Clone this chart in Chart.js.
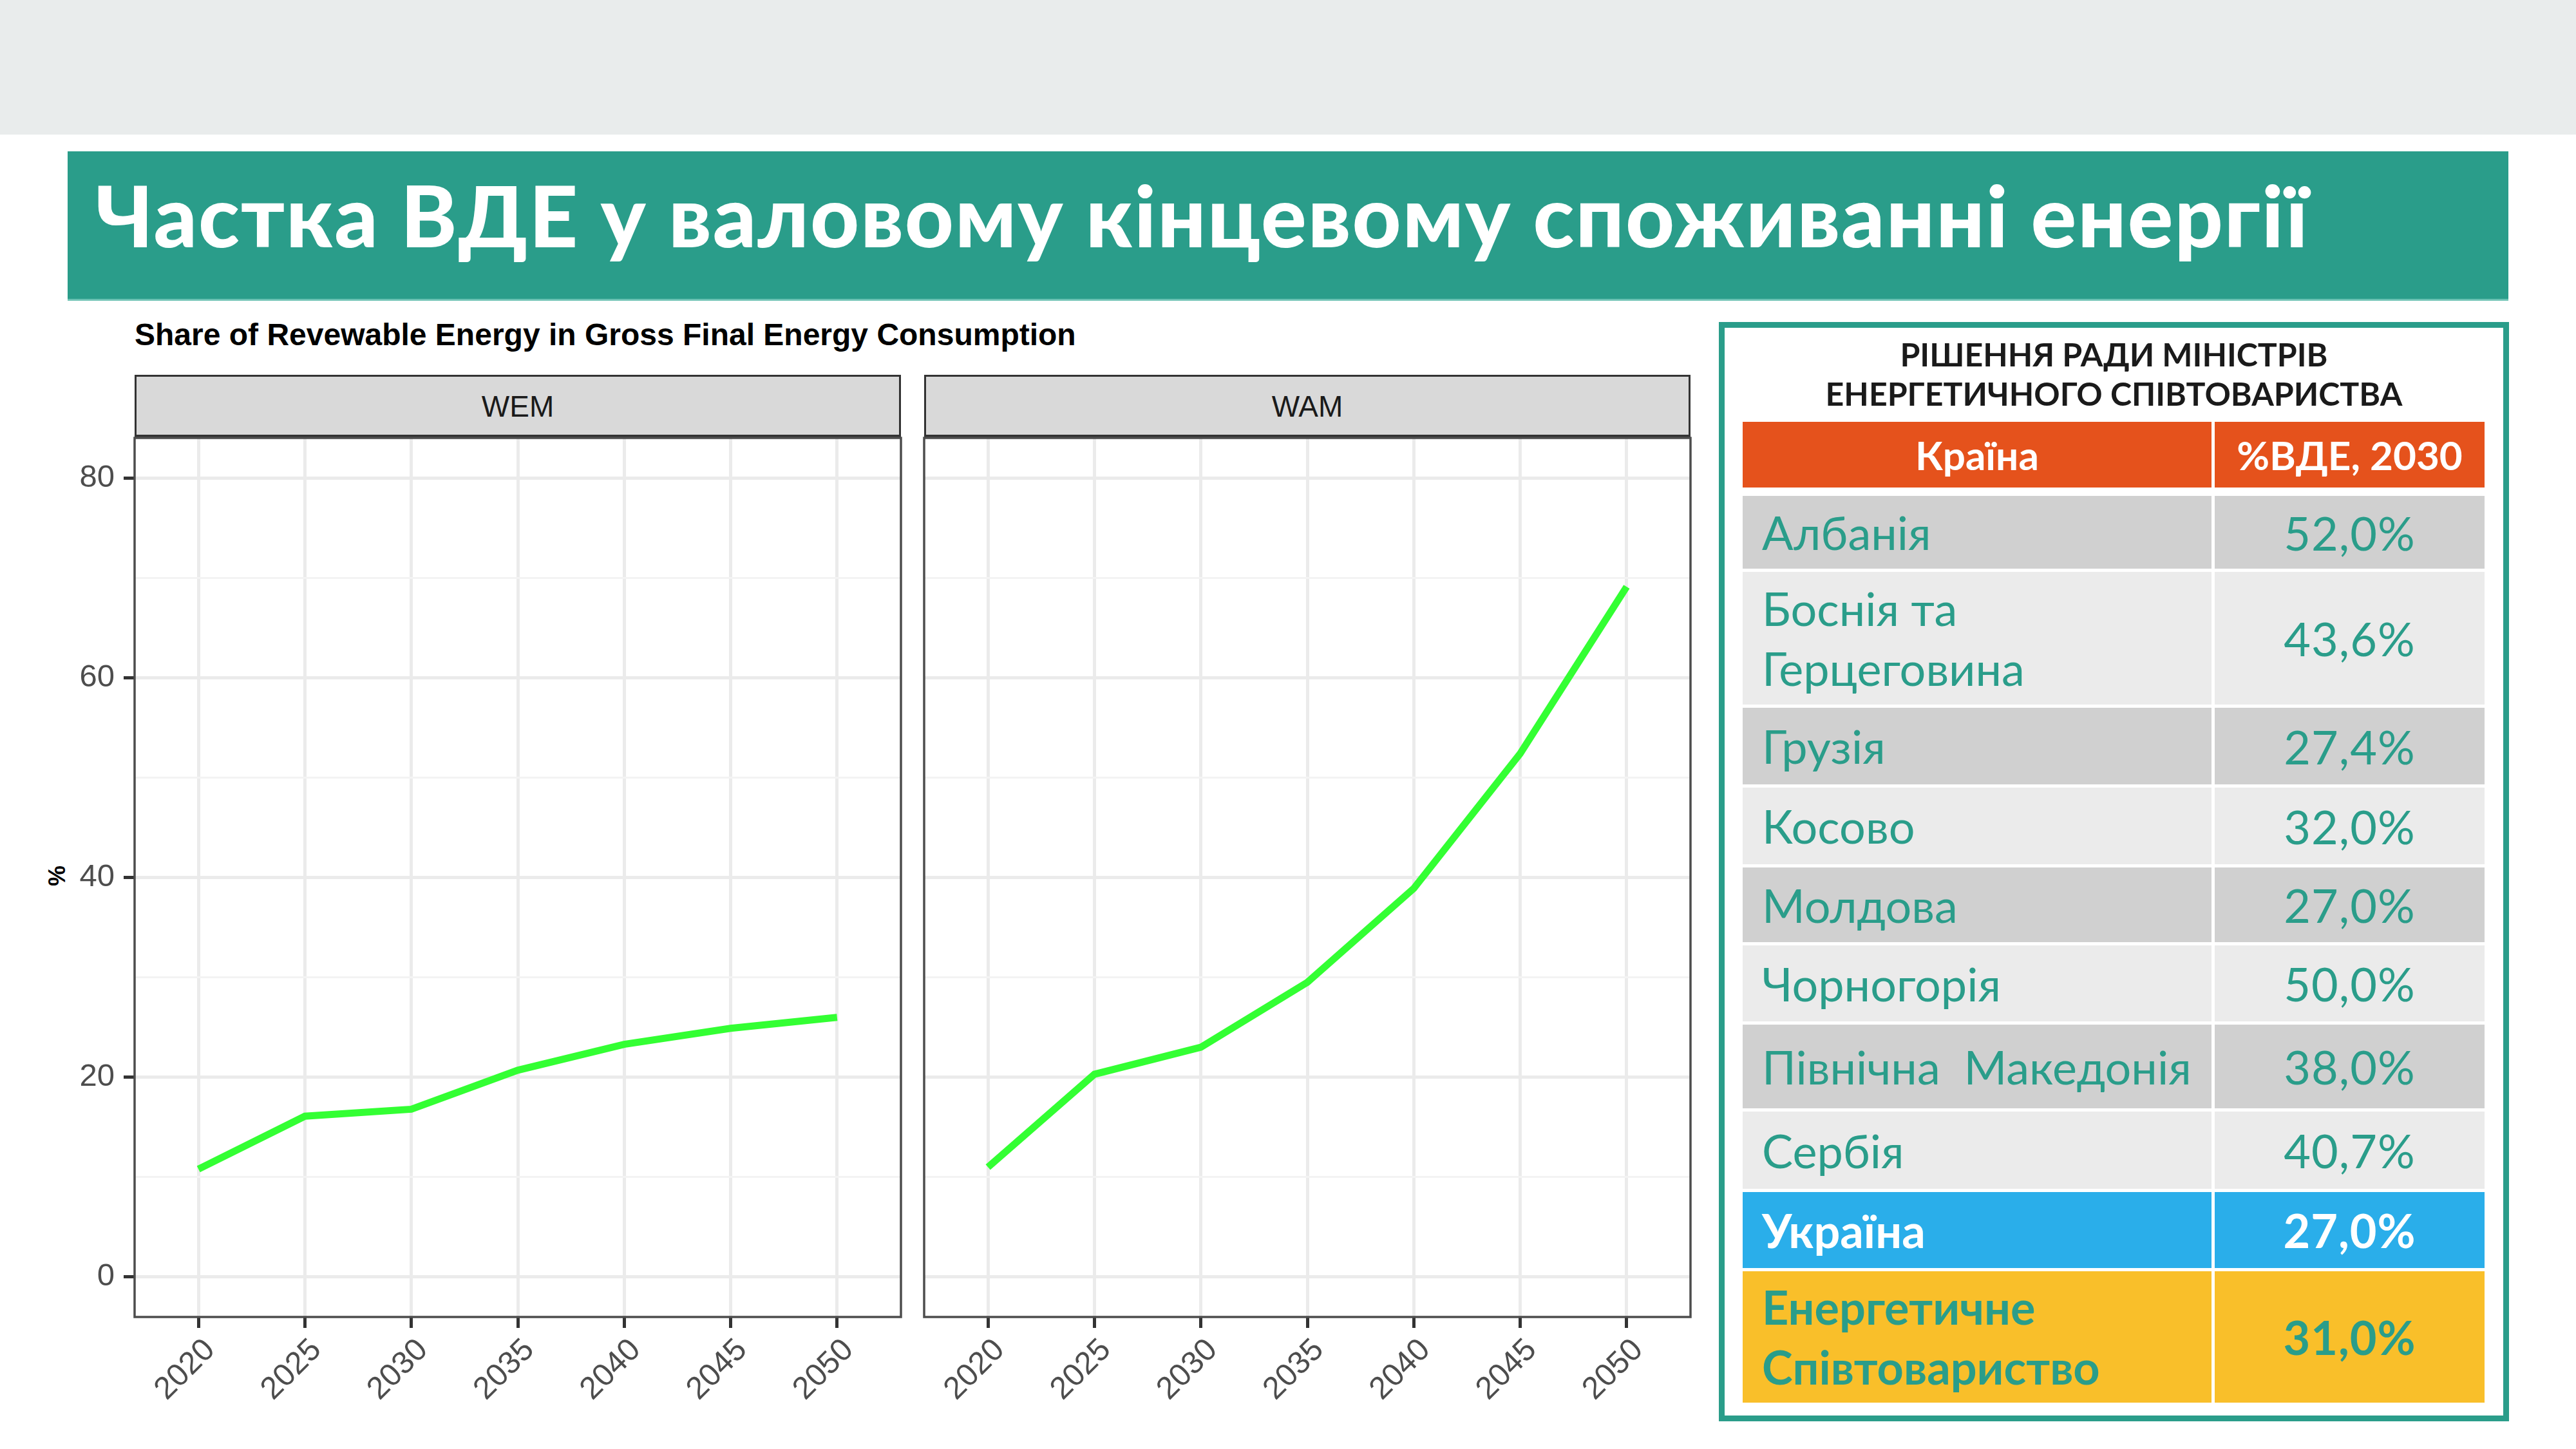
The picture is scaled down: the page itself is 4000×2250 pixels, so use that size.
<!DOCTYPE html>
<html>
<head>
<meta charset="utf-8">
<script src="https://cdn.jsdelivr.net/npm/chart.js@4.4.0/dist/chart.umd.min.js"></script>
<style>
html,body{margin:0;padding:0;width:4000px;height:2250px;background:#fff;overflow:hidden;position:relative;font-family:'Liberation Sans',Arial,sans-serif}
#band{position:absolute;left:0;top:0;width:4000px;height:209px;background:#e9ecec}
#titlebar{position:absolute;left:105px;top:235px;width:3790px;height:232px;background:#2a9d8a;border-bottom:3px solid #6cc2b3;box-sizing:border-box}
#titlebar span{position:absolute;left:43px;top:32px;line-height:132px;color:#fff;font-family:Lato,'Open Sans',sans-serif;font-weight:900;font-size:132px;letter-spacing:2px;white-space:nowrap}
#subtitle{position:absolute;left:209px;top:492px;line-height:56px;font-weight:bold;font-size:48px;color:#000;white-space:nowrap}
.strip{position:absolute;top:582px;width:1190px;height:98px;background:#d9d9d9;border:3px solid #333;border-bottom-width:5px;box-sizing:border-box;text-align:center;line-height:92px;font-size:46px;color:#1a1a1a}
#ytitle{position:absolute;left:66px;top:1337px;width:46px;height:46px;line-height:46px;text-align:center;font-weight:bold;font-size:36px;color:#000;transform:rotate(-90deg)}
canvas{position:absolute}
#tablebox{position:absolute;left:2669px;top:500px;width:1227px;height:1707px;border:9px solid #2a9d8a;box-sizing:border-box;font-family:Lato,'Open Sans',sans-serif}
#thead{position:absolute;left:0;right:0;top:11px;text-align:center;font-weight:bold;font-size:50px;line-height:61px;color:#1a1a1a}
.cell{position:absolute;box-sizing:border-box;display:flex;align-items:center;font-family:Lato,'Open Sans',sans-serif}
.name{padding-left:30px;justify-content:flex-start;font-size:72px;line-height:93px;color:#2a9d8a}
.val{justify-content:center;font-size:72px;color:#2a9d8a;letter-spacing:1px}
.hdr{justify-content:center;font-size:62px;font-weight:bold;color:#fff;background:#e5521c}
</style>
</head>
<body>
<div id="band"></div>
<div id="titlebar"><span id="titletext"></span></div>
<div id="subtitle"></div>
<div id="ytitle">%</div>
<div class="strip" id="strip0" style="left:209px"></div>
<div class="strip" id="strip1" style="left:1435px"></div>
<canvas id="c0" width="1420" height="1580" style="left:0px;top:600px;width:1420px;height:1580px"></canvas>
<canvas id="c1" width="1225" height="1580" style="left:1420px;top:600px;width:1225px;height:1580px"></canvas>
<div id="tablebox"><div id="thead"></div></div>
<div id="tablerows"></div>
<script>
// ---- text ----
const slideTitle = 'Частка ВДЕ у валовому кінцевому споживанні енергії';
const chartTitle = 'Share of Revewable Energy in Gross Final Energy Consumption';
const yAxisTitle = '%';
const tableTitle = ['РІШЕННЯ РАДИ МІНІСТРІВ', 'ЕНЕРГЕТИЧНОГО СПІВТОВАРИСТВА'];
const tableHeader = ['Країна', '%ВДЕ, 2030'];

// ---- chart data ----
const panelNames = ['WEM', 'WAM'];
const years = [2020, 2025, 2030, 2035, 2040, 2045, 2050];
const wemValues = [10.8, 16.1, 16.8, 20.7, 23.3, 24.9, 26.0];
const wamValues = [11.0, 20.3, 23.0, 29.5, 38.9, 52.4, 69.1];
const yTicks = [0, 10, 20, 30, 40, 50, 60, 70, 80];
const yLabelTicks = [0, 20, 40, 60, 80];

// ---- table data ----
const countries = ['Албанія', 'Боснія та<br>Герцеговина', 'Грузія', 'Косово', 'Молдова', 'Чорногорія', 'Північна&nbsp; Македонія', 'Сербія', 'Україна', 'Енергетичне<br>Співтовариство'];
const targets = ['52,0%', '43,6%', '27,4%', '32,0%', '27,0%', '50,0%', '38,0%', '40,7%', '27,0%', '31,0%'];

// ---- layout (not data) ----
const rowHeights = [113, 206, 119, 119, 116, 118, 130, 120, 118, 204];
const rowGap = 5;
const rowStyles = ['d','l','d','l','d','l','d','l','ua','ec'];

document.getElementById('titletext').textContent = slideTitle;
document.getElementById('subtitle').textContent = chartTitle;
document.getElementById('ytitle').textContent = yAxisTitle;
document.getElementById('strip0').textContent = panelNames[0];
document.getElementById('strip1').textContent = panelNames[1];
document.getElementById('thead').innerHTML = tableTitle.join('<br>');

// table
(function(){
  const host = document.getElementById('tablerows');
  const L = 2706, split = 3434, R = 3858, gapC = 5;
  function cell(cls, x, y, w, h, html, extra){
    const d = document.createElement('div');
    d.className = 'cell ' + cls;
    d.style.left = x + 'px'; d.style.top = y + 'px';
    d.style.width = w + 'px'; d.style.height = h + 'px';
    d.innerHTML = html;
    if (extra) Object.assign(d.style, extra);
    host.appendChild(d);
  }
  cell('hdr', L, 655, split - L, 102, tableHeader[0]);
  cell('hdr', split + gapC, 655, R - split - gapC, 102, tableHeader[1]);
  let y = 770;
  countries.forEach((c, i) => {
    const h = rowHeights[i];
    const st = rowStyles[i];
    let bg = st === 'd' ? '#d0d0d0' : st === 'l' ? '#ebebeb' : st === 'ua' ? '#2aaeea' : '#f9bf2a';
    let extra = {background: bg};
    if (st === 'ua') { extra.color = '#fff'; extra.fontWeight = 'bold'; }
    if (st === 'ec') { extra.fontWeight = 'bold'; }
    cell('name', L, y, split - L, h, c, extra);
    cell('val', split + gapC, y, R - split - gapC, h, targets[i], Object.assign({}, extra));
    y += h + rowGap;
  });
})();

// charts
const borderPlugin = {
  id: 'panelBorder',
  afterDraw(chart) {
    const a = chart.chartArea, ctx = chart.ctx;
    ctx.save();
    ctx.strokeStyle = '#4d4d4d';
    ctx.lineWidth = 3.5;
    ctx.strokeRect(a.left, a.top, a.right - a.left, a.bottom - a.top);
    ctx.restore();
  }
};

function makePanel(id, values, showY, padding) {
  const tickFont = {family: "'Liberation Sans', Arial, sans-serif", size: 49};
  new Chart(document.getElementById(id), {
    type: 'line',
    data: {
      datasets: [{
        data: years.map((yr, i) => ({x: yr, y: values[i]})),
        borderColor: '#33ff33',
        borderWidth: 11,
        pointRadius: 0,
        tension: 0,
        fill: false
      }]
    },
    options: {
      responsive: false,
      animation: false,
      devicePixelRatio: 1,
      layout: {padding: padding},
      plugins: {legend: {display: false}, tooltip: {enabled: false}, title: {display: false}},
      scales: {
        x: {
          type: 'linear',
          min: 2017, max: 2053,
          afterBuildTicks: s => { s.ticks = years.map(v => ({value: v})); },
          afterFit: s => { s.height = 135; },
          border: {display: false},
          grid: {color: '#ebebeb', lineWidth: 5, drawTicks: true, tickLength: 17, tickColor: '#333333', tickWidth: 5},
          ticks: {autoSkip: false, minRotation: 45, maxRotation: 45, padding: 6, labelOffset: 18, color: '#4d4d4d', font: tickFont, callback: v => String(v)}
        },
        y: {
          type: 'linear',
          min: -4, max: 84,
          afterBuildTicks: s => { s.ticks = yTicks.map(v => ({value: v})); },
          afterFit: s => { s.width = showY ? 209 : 0; },
          border: {display: false},
          grid: {
            color: ctx => yLabelTicks.includes(ctx.tick.value) ? '#ebebeb' : '#f3f3f3',
            lineWidth: ctx => yLabelTicks.includes(ctx.tick.value) ? 5 : 3,
            drawTicks: showY,
            tickLength: 17,
            tickColor: ctx => yLabelTicks.includes(ctx.tick.value) ? '#333333' : 'rgba(0,0,0,0)',
            tickWidth: 5
          },
          ticks: {display: showY, autoSkip: false, padding: 14, color: '#4d4d4d', font: tickFont,
            callback: v => yLabelTicks.includes(v) ? String(v) : ''}
        }
      }
    },
    plugins: [borderPlugin]
  });
}
makePanel('c0', wemValues, true, {top: 80, right: 21, left: 0, bottom: 0});
makePanel('c1', wamValues, false, {top: 80, right: 20, left: 15, bottom: 0});
</script>
</body>
</html>
